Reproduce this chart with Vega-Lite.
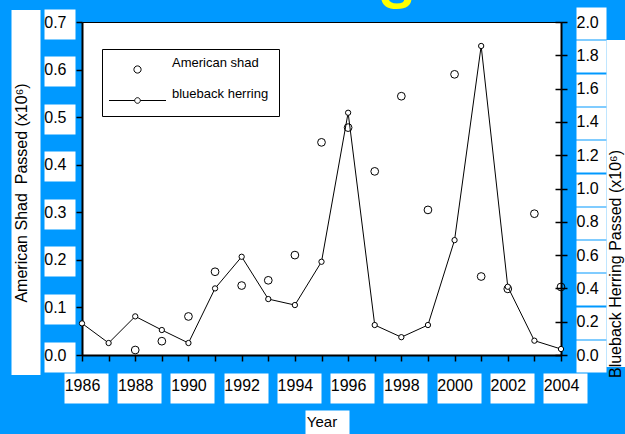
{
  "$schema": "https://vega.github.io/schema/vega-lite/v6.json",
  "width": 479,
  "height": 333,
  "autosize": {"type": "none"},
  "padding": {"left": 82, "top": 22, "right": 64, "bottom": 79},
  "background": "#0099FF",
  "view": {"fill": "white", "stroke": "black", "strokeWidth": 1},
  "title": {"text": "S", "color": "#FFFF00", "fontSize": 50, "fontWeight": "bold", "font": "Liberation Sans", "anchor": "start", "frame": "group", "dx": 298, "baseline": "alphabetic", "offset": -52},
  "config": {
    "font": "Liberation Sans",
    "view": {"fill": "white", "stroke": "black", "strokeWidth": 1},
    "style": {"cell": {"fill": "white", "stroke": "black", "strokeWidth": 1}},
    "axis": {"grid": false, "labelFont": "Liberation Sans", "titleFont": "Liberation Sans", "labelColor": "black", "titleColor": "black", "domainColor": "black", "tickColor": "black", "titleFontWeight": "normal", "labelFlush": false, "labelOverlap": false}
  },
  "data": {"values": [
    {"year": 1986, "shad": null, "herring": 0.19},
    {"year": 1987, "shad": null, "herring": 0.072},
    {"year": 1988, "shad": 0.0105, "herring": 0.232},
    {"year": 1989, "shad": 0.029, "herring": 0.15},
    {"year": 1990, "shad": 0.081, "herring": 0.072},
    {"year": 1991, "shad": 0.175, "herring": 0.40},
    {"year": 1992, "shad": 0.146, "herring": 0.59},
    {"year": 1993, "shad": 0.157, "herring": 0.336},
    {"year": 1994, "shad": 0.21, "herring": 0.30},
    {"year": 1995, "shad": 0.447, "herring": 0.56},
    {"year": 1996, "shad": 0.478, "herring": 1.455},
    {"year": 1997, "shad": 0.386, "herring": 0.18},
    {"year": 1998, "shad": 0.544, "herring": 0.107},
    {"year": 1999, "shad": 0.305, "herring": 0.18},
    {"year": 2000, "shad": 0.59, "herring": 0.69},
    {"year": 2001, "shad": 0.165, "herring": 1.856},
    {"year": 2002, "shad": 0.139, "herring": 0.41},
    {"year": 2003, "shad": 0.297, "herring": 0.086},
    {"year": 2004, "shad": 0.143, "herring": 0.036}
  ]},
  "resolve": {"scale": {"x": "independent", "y": "independent"}},
  "layer": [
    {
      "mark": {"type": "point", "opacity": 0},
      "encoding": {
        "x": {"field": "year", "type": "quantitative", "scale": {"domain": [1986, 2004], "nice": false, "zero": false},
          "axis": {"orient": "bottom", "offset": 18, "values": [1986, 1988, 1990, 1992, 1994, 1996, 1998, 2000, 2002, 2004], "tickSize": 30, "tickWidth": 44, "tickOffset": 4, "tickColor": "white", "domain": false, "labels": false, "title": null}},
        "y": {"field": "shad", "type": "quantitative", "scale": {"domain": [0, 0.7], "nice": false, "zero": false},
          "axis": {"orient": "left", "offset": 7, "values": [0, 0.1, 0.2, 0.3, 0.4, 0.5, 0.6, 0.7], "tickSize": 31, "tickWidth": 30, "tickOffset": 1.5, "tickColor": "white", "domain": false, "labels": false, "title": null}}
      }
    },
    {
      "mark": {"type": "point", "opacity": 0},
      "encoding": {
        "x": {"field": "year", "type": "quantitative", "scale": {"domain": [1986, 2004], "nice": false, "zero": false},
          "axis": {"orient": "bottom", "offset": 55, "values": [1995.22], "tickSize": 30, "tickWidth": 44, "tickColor": "white", "domain": false, "labels": false, "title": null}},
        "y": {"field": "shad", "type": "quantitative", "scale": {"domain": [0, 0.7], "nice": false, "zero": false},
          "axis": {"orient": "left", "offset": 42, "values": [0.343], "tickSize": 29, "tickWidth": 365, "tickColor": "white", "domain": false, "labels": false, "title": null}}
      }
    },
    {
      "mark": {"type": "point", "opacity": 0},
      "encoding": {
        "x": {"field": "year", "type": "quantitative", "scale": {"domain": [1986, 2004], "nice": false, "zero": false},
          "axis": {"orient": "bottom", "values": [1986, 1987, 1988, 1989, 1990, 1991, 1992, 1993, 1994, 1995, 1996, 1997, 1998, 1999, 2000, 2001, 2002, 2003, 2004], "format": "d", "labelExpr": "datum.value % 2 == 0 ? datum.label : ''", "tickSize": 6, "tickWidth": 1.5, "domainWidth": 2, "labelFontSize": 16, "labelPadding": 16, "labelBaseline": "top", "labelAlign": "center", "title": "Year", "titleFontSize": 15, "titleX": 239.5, "titleY": 71.5, "titleAlign": "center", "titleBaseline": "alphabetic"}},
        "y": {"field": "herring", "type": "quantitative", "scale": {"domain": [0, 2], "nice": false, "zero": false},
          "axis": {"orient": "right", "offset": 15, "values": [0, 0.2, 0.4, 0.6, 0.8, 1.0, 1.2, 1.4, 1.6, 1.8, 2.0], "tickSize": 30, "tickWidth": 32, "tickOffset": 1, "tickColor": "white", "domain": false, "labels": false, "title": null}}
      }
    },
    {
      "mark": {"type": "point", "opacity": 0},
      "encoding": {
        "x": {"field": "year", "type": "quantitative", "scale": {"domain": [1986, 2004], "nice": false, "zero": false}, "axis": null},
        "y": {"field": "herring", "type": "quantitative", "scale": {"domain": [0, 2], "nice": false, "zero": false},
          "axis": {"orient": "right", "offset": 45, "values": [0.913], "tickSize": 25, "tickWidth": 327, "tickColor": "white", "domain": false, "labels": false, "title": null}}
      }
    },
    {
      "mark": {"type": "point", "opacity": 0},
      "encoding": {
        "x": {"field": "year", "type": "quantitative", "scale": {"domain": [1986, 2004], "nice": false, "zero": false}, "axis": null},
        "y": {"field": "herring", "type": "quantitative", "scale": {"domain": [0, 2], "nice": false, "zero": false},
          "axis": {"orient": "right", "offset": -6, "values": [0, 0.2, 0.4, 0.6, 0.8, 1.0, 1.2, 1.4, 1.6, 1.8, 2.0], "tickSize": 6, "tickWidth": 1.5, "domain": false, "labels": false, "title": null}}
      }
    },
    {
      "mark": {"type": "line", "color": "black", "strokeWidth": 1},
      "encoding": {
        "x": {"field": "year", "type": "quantitative", "scale": {"domain": [1986, 2004], "nice": false, "zero": false}, "axis": null},
        "y": {"field": "herring", "type": "quantitative", "scale": {"domain": [0, 2], "nice": false, "zero": false},
          "axis": {"orient": "right", "values": [0, 0.2, 0.4, 0.6, 0.8, 1.0, 1.2, 1.4, 1.6, 1.8, 2.0], "format": ".1f", "tickSize": 6, "tickWidth": 1.5, "domainWidth": 2, "labelFontSize": 16, "labelPadding": 9, "labelAlign": "left", "labelBaseline": "middle", "title": "Blueback Herring Passed (x10⁶)", "titleFontSize": 16, "titleAngle": 270, "titleX": 59, "titleY": 241.5, "titleAlign": "center", "titleBaseline": "alphabetic"}}
      }
    },
    {
      "mark": {"type": "point", "shape": "circle", "size": 60, "filled": false, "stroke": "black", "strokeWidth": 1, "opacity": 1},
      "encoding": {
        "x": {"field": "year", "type": "quantitative", "scale": {"domain": [1986, 2004], "nice": false, "zero": false}, "axis": null},
        "y": {"field": "shad", "type": "quantitative", "scale": {"domain": [0, 0.7], "nice": false, "zero": false},
          "axis": {"orient": "left", "values": [0, 0.1, 0.2, 0.3, 0.4, 0.5, 0.6, 0.7], "format": ".1f", "tickSize": 6, "tickWidth": 1.5, "domainWidth": 2, "labelFontSize": 16, "labelPadding": 10, "labelAlign": "right", "labelBaseline": "middle", "title": "American Shad\u00a0 Passed (x10⁶)", "titleFontSize": 16, "titleAngle": 270, "titleX": -56, "titleY": 170.5, "titleAlign": "center", "titleBaseline": "alphabetic"}}
      }
    },
    {
      "mark": {"type": "point", "shape": "circle", "size": 28, "filled": true, "fill": "white", "stroke": "black", "strokeWidth": 1, "opacity": 1},
      "encoding": {
        "x": {"field": "year", "type": "quantitative", "scale": {"domain": [1986, 2004], "nice": false, "zero": false}, "axis": null},
        "y": {"field": "herring", "type": "quantitative", "scale": {"domain": [0, 2], "nice": false, "zero": false}, "axis": null}
      }
    },
    {
      "data": {"values": [{"series": "American shad"}, {"series": "blueback herring"}]},
      "transform": [{"filter": "datum.series == 'none'"}],
      "mark": {"type": "point", "filled": false, "color": "black", "strokeWidth": 1},
      "encoding": {
        "shape": {"field": "series", "type": "nominal",
          "scale": {"domain": ["American shad", "blueback herring"], "range": ["M0.36,0A0.36,0.36,0,1,1,-0.36,0A0.36,0.36,0,1,1,0.36,0Z", "M-2.85,0L-0.28,0M0.28,0L2.85,0M0.28,0A0.28,0.28,0,1,1,-0.28,0A0.28,0.28,0,1,1,0.28,0Z"]},
          "legend": {"orient": "none", "legendX": 20, "legendY": 27, "title": null, "symbolSize": 400, "symbolStrokeWidth": 1, "symbolStrokeColor": "black", "symbolFillColor": "white", "symbolOpacity": 1, "symbolOffset": 15, "labelOffset": 24, "labelFontSize": 13, "labelFont": "Liberation Sans", "labelColor": "black", "labelBaseline": "bottom", "rowPadding": 11, "padding": 10, "strokeColor": "black", "fillColor": "white", "labelExpr": "datum.label + '\u2002\u2002\u2002\u2002\u2002'"}}
      }
    }
  ]
}
